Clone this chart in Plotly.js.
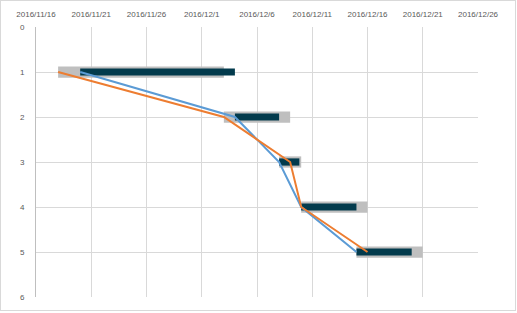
<!DOCTYPE html>
<html>
<head>
<meta charset="utf-8">
<script src="https://cdn.plot.ly/plotly-3.0.1.min.js"></script>
<style>
  html, body { margin: 0; padding: 0; background: #fff; }
  #wrap { position: relative; width: 517px; height: 313px; }
  #chart { position: absolute; left: 0; top: 0; width: 517px; height: 313px; }
  #frame { position: absolute; left: 0; top: 0; width: 514px; height: 309px; border: 1px solid #D9D9D9; pointer-events: none; }
</style>
</head>
<body>
<div id="wrap"><div id="chart"></div><div id="frame"></div></div>
<script>
// Task rows
const rows = [1, 2, 3, 4, 5];
// Gray bars
const grayStart = ['2016-11-18', '2016-12-03', '2016-12-08', '2016-12-10', '2016-12-15'];
const grayEnd   = ['2016-12-03', '2016-12-09', '2016-12-10', '2016-12-16', '2016-12-21'];
// Dark bars
const darkStart = ['2016-11-20', '2016-12-04', '2016-12-08', '2016-12-10', '2016-12-15'];
const darkEnd   = ['2016-12-04', '2016-12-08', '2016-12-09 20:00', '2016-12-15', '2016-12-20'];
// Lines
const orangeDates = ['2016-11-18', '2016-12-03', '2016-12-09', '2016-12-10', '2016-12-16'];
const blueDates   = ['2016-11-20', '2016-12-04', '2016-12-08', '2016-12-10', '2016-12-15'];
// Axis ticks
const xTickVals = ['2016-11-16', '2016-11-21', '2016-11-26', '2016-12-01', '2016-12-06', '2016-12-11', '2016-12-16', '2016-12-21', '2016-12-26'];
const xTickText = ['2016/11/16', '2016/11/21', '2016/11/26', '2016/12/1', '2016/12/6', '2016/12/11', '2016/12/16', '2016/12/21', '2016/12/26'];
const yTickVals = [0, 1, 2, 3, 4, 5, 6];

function ms(s) {
  const t = s.length > 10 ? s.replace(' ', 'T') + ':00Z' : s + 'T00:00:00Z';
  return Date.parse(t);
}
const grayDur = grayStart.map((s, i) => ms(grayEnd[i]) - ms(s));
const darkDur = darkStart.map((s, i) => ms(darkEnd[i]) - ms(s));

const traces = [
  { type: 'bar', orientation: 'h', y: rows, x: grayDur, base: grayStart, width: 0.25,
    marker: { color: '#BFBFBF' }, hoverinfo: 'skip' },
  { type: 'bar', orientation: 'h', y: rows, x: darkDur, base: darkStart, width: 0.16,
    marker: { color: '#033B4D' }, hoverinfo: 'skip' },
  { type: 'scatter', mode: 'lines', x: blueDates, y: rows,
    line: { color: '#5B9BD5', width: 2 } },
  { type: 'scatter', mode: 'lines', x: orangeDates, y: rows,
    line: { color: '#ED7D31', width: 2 } }
];

const tickFont = { family: 'Liberation Sans, Arial, sans-serif', size: 8, color: '#595959' };

const layout = {
  width: 517, height: 313,
  margin: { l: 36, r: 39, t: 27, b: 16 },
  paper_bgcolor: '#fff', plot_bgcolor: '#fff',
  showlegend: false,
  barmode: 'overlay',
  xaxis: {
    type: 'date', side: 'top',
    range: ['2016-11-16', '2016-12-26'],
    tickmode: 'array', tickvals: xTickVals, ticktext: xTickText,
    showgrid: true, gridcolor: '#D9D9D9', gridwidth: 1,
    zeroline: false, showline: false, ticks: '',
    ticklabelstandoff: 7,
    tickfont: tickFont
  },
  yaxis: {
    range: [6, 0],
    tickmode: 'array', tickvals: yTickVals,
    showgrid: true, gridcolor: '#D9D9D9', gridwidth: 1,
    zeroline: false, showline: true, linecolor: '#BFBFBF', linewidth: 1,
    ticks: '', ticklabelstandoff: 9,
    tickfont: tickFont
  }
};

Plotly.newPlot('chart', traces, layout, { staticPlot: true, displayModeBar: false });
</script>
</body>
</html>
